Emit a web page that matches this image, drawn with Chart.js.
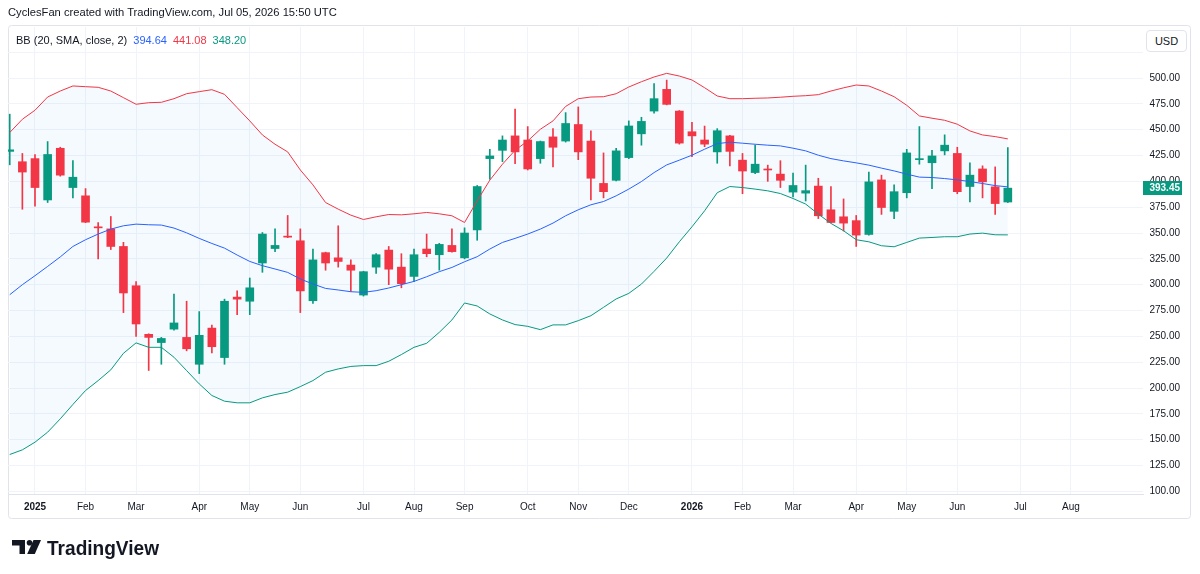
<!DOCTYPE html>
<html>
<head>
<meta charset="utf-8">
<script src="https://cdn.jsdelivr.net/npm/chart.js@4.4.1/dist/chart.umd.min.js"></script>
<style>
  body { margin: 0; background: #fff; }
  #wrap { position: relative; width: 1200px; height: 574px; font-family: "Liberation Sans", Arial, sans-serif; color: #131722; }
  canvas { position: absolute; left: 0; top: 0; }
  #hdr { position: absolute; left: 8px; top: 6px; font-size: 11.2px; white-space: nowrap; }
  #bb { position: absolute; left: 16px; top: 34px; font-size: 11px; white-space: nowrap; }
  #bb span { margin-left: 6px; }
  #usd { position: absolute; left: 1146px; top: 30px; width: 41px; height: 22px; border: 1px solid #e0e3eb; border-radius: 4px;
         box-sizing: border-box; font-size: 11px; line-height: 20px; text-align: center; background: #fff; }
  #logo { position: absolute; left: 10px; top: 534px; }
</style>
</head>
<body>
<div id="wrap">
  <canvas id="chart" width="1200" height="574"></canvas>
  <div id="hdr">CyclesFan created with TradingView.com, Jul 05, 2026 15:50 UTC</div>
  <div id="bb">BB (20, SMA, close, 2)<span id="bbBasis" style="color:#2962ff"></span><span id="bbUpper" style="color:#f23645"></span><span id="bbLower" style="color:#089981"></span></div>
  <div id="usd">USD</div>
  <svg id="logo" width="170" height="30" viewBox="0 0 170 30">
    <path d="M2 6h13v14h-5.5v-8.5H2z" fill="#131722"/>
    <circle cx="19.5" cy="8.8" r="2.8" fill="#131722"/>
    <path d="M23.5 6h7.5l-6.2 14h-7.6z" fill="#131722"/>
    <text x="37" y="20.5" font-family="Liberation Sans, Arial, sans-serif" font-weight="bold" font-size="20.5" textLength="112" lengthAdjust="spacingAndGlyphs" fill="#131722">TradingView</text>
  </svg>
</div>
<script>
// weekly bars, first bar is the week of Dec 23 2024 (index -2, week 0 = Jan 6 2025)
const firstWeek = -2;

const opens = [429, 419, 422, 382, 432, 394, 386, 356, 354, 337, 299, 252, 244, 257, 249, 223, 258, 229.5, 288, 284,
  321, 335, 347, 342.5, 284.5, 331, 326, 319, 290, 317, 333.5, 317, 308, 334.5, 329, 338, 326, 353, 422, 430,
  444, 440, 422, 443, 439, 455, 439, 398, 401, 423, 446, 468, 489, 468, 448, 440, 428.5, 444, 420.5, 408.5,
  411.5, 407, 389.6, 388.6, 395.4, 372.5, 365.7, 362, 348.6, 401.4, 371, 389, 421, 418, 429.5, 427, 395, 412, 394.7, 380];
const highs = [465, 427, 426, 438.5, 433, 420, 393, 360, 366, 341, 303, 252.5, 249, 291, 284, 274, 261, 286, 294, 306.5,
  350.5, 354, 367, 354, 334.5, 331.5, 357, 324, 313, 330, 337, 330, 334.5, 349, 340, 354, 355, 396, 431, 444,
  470, 453, 439, 451, 466.5, 472, 449, 427.5, 432, 458.5, 462, 494.5, 498, 468.5, 457, 453.5, 451, 444.5, 427, 435,
  415.7, 420, 408, 415.7, 403, 395, 383, 367, 409, 406, 396.6, 431, 453, 430, 445, 433, 418, 415, 414, 432.7];
const lows = [416, 373, 376, 379.5, 405, 384, 360, 325, 334, 273, 250, 217, 223, 256, 236, 214, 234, 223, 271, 271,
  312, 332, 345.5, 273, 282, 314, 317, 293.5, 289, 311, 300, 297, 303, 327, 314, 331.5, 325, 343, 402, 419,
  417, 411, 417.5, 414, 438, 421, 382, 384, 400.5, 422, 435, 466, 474, 436, 424, 433.5, 417.5, 415, 388, 407.5,
  400, 394, 385, 381, 364, 360, 352, 337, 348, 368, 364, 384, 416.6, 393, 425.6, 388, 380, 384, 368, 379.5];
const closes = [430.5, 409, 394, 426, 406, 404, 360.5, 355, 337, 292, 262, 249, 248, 263, 238, 251, 240, 284, 286, 297,
  349, 338, 346, 294, 324, 321, 322.5, 314, 312.6, 329, 315, 301, 329, 330, 339, 332, 350, 395, 424.6, 440,
  428.5, 412, 438.5, 433, 456, 428.5, 403, 390, 429.5, 453.6, 458, 480, 474.5, 437, 444, 436, 449, 429, 410, 416.6,
  411, 401, 396, 391, 366.7, 360.2, 359.6, 348, 399.5, 374.7, 390, 427.5, 421.5, 424.6, 435, 390, 406, 399.5, 378.5, 393.45];

// Bollinger Bands (20, SMA, close, 2)
const bbUpper = [447.2, 460.1, 468.8, 481.6, 487.4, 492.3, 491.6, 491.0, 487.4, 481, 474.6, 476.1, 476.5, 480, 484.8, 486.8, 488.7, 484.2, 471.3, 458.5,
  444.9, 435.9, 428.5, 411, 396.6, 379.5, 373.1, 367.3, 363.1, 365.7, 367.9, 367.6, 368.6, 369.9, 368.6, 366.7, 360.2, 381.2, 401.2, 416.6,
  430.1, 439.1, 450.4, 458.5, 472.5, 480, 481.6, 481.9, 484.8, 491.3, 496.4, 501, 504.5, 501.9, 498.1, 490.6, 482.6, 480, 480, 480.4,
  480.7, 481.4, 482.3, 482.9, 483.9, 487.4, 490.5, 493.2, 492.3, 487.4, 481.9, 473.6, 463.3, 461.1, 459.1, 455.3, 448.8, 444.9, 443.3, 441.08];
const bbBasis = [290.3, 300, 308.7, 317.7, 326.9, 337, 343.5, 349, 353.8, 357, 358.6, 358, 357.7, 354.8, 350.2, 344.8, 339.9, 335.4, 328.7, 322.5,
  318.4, 315.2, 311.9, 305.5, 300.7, 296.4, 294.9, 293.2, 292.6, 294.2, 296.8, 300, 303.2, 307.7, 312.6, 316.7, 322.2, 327.1, 334.5, 340.9,
  344.8, 349, 353.8, 359.6, 366.7, 372.5, 377.3, 380.5, 386, 392.5, 399.8, 408.5, 415.9, 420.5, 425.3, 431.1, 436.5, 437.9, 436.9, 435.9,
  435, 434.3, 432.1, 429.5, 425.3, 422, 419.8, 417.9, 415.7, 412.8, 410.1, 407, 404.1, 403.7, 402.7, 401.4, 399.8, 397.9, 395.9, 394.64];
const bbLower = [135.7, 140.2, 147.6, 157.3, 170.2, 184.1, 197.6, 207.2, 217.6, 233.6, 243.7, 239.4, 239.4, 229.8, 216.9, 204, 192.8, 187.3, 185.7, 185.7,
  190.5, 193.7, 196, 201.4, 207.2, 215.3, 218.5, 220.9, 221.7, 221.7, 225.9, 232.4, 239.4, 243.3, 253.9, 265.9, 282.3, 279.4, 271.7, 265.9,
  261.4, 259.7, 256.5, 261.1, 261.1, 265.2, 270, 278.1, 286.2, 291.6, 300.6, 312.9, 325.8, 341.5, 356, 371.5, 389, 395, 394, 392.5,
  390.8, 388.2, 383.4, 378, 368.3, 359.3, 352.2, 343.5, 341.5, 337.7, 336.7, 340.9, 345.1, 345.7, 346.4, 346.4, 349, 349.9, 348.3, 348.20];

// time axis: week index of the first bar of each month
const monthTicks = [0, 4, 8, 13, 17, 21, 26, 30, 34, 39, 43, 47, 52, 56, 60, 65, 69, 73, 78, 82];
const monthLabels = ['2025', 'Feb', 'Mar', 'Apr', 'May', 'Jun', 'Jul', 'Aug', 'Sep', 'Oct', 'Nov', 'Dec',
  '2026', 'Feb', 'Mar', 'Apr', 'May', 'Jun', 'Jul', 'Aug'];

const upColor = '#089981';
const downColor = '#f23645';
const gridColor = '#f0f3fa';
const fontFamily = '"Liberation Sans", Arial, sans-serif';

const lastClose = closes[closes.length - 1];

document.getElementById('bbBasis').textContent = bbBasis[bbBasis.length - 1].toFixed(2);
document.getElementById('bbUpper').textContent = bbUpper[bbUpper.length - 1].toFixed(2);
document.getElementById('bbLower').textContent = bbLower[bbLower.length - 1].toFixed(2);

const weekOf = i => firstWeek + i;
const bodyData = opens.map((o, i) => ({ x: weekOf(i), y: [o, closes[i]] }));
const wickData = highs.map((h, i) => ({ x: weekOf(i), y: [lows[i], h] }));
const candleColors = opens.map((o, i) => closes[i] >= o ? upColor : downColor);
const toPoints = arr => arr.map((v, i) => ({ x: weekOf(i), y: v }));

const frame = {
  id: 'frame',
  beforeDraw: (chart) => {
    const ctx = chart.ctx;
    ctx.save();
    ctx.fillStyle = '#fff';
    ctx.fillRect(0, 0, chart.width, chart.height);
    ctx.strokeStyle = '#e0e3eb';
    ctx.lineWidth = 1;
    ctx.beginPath();
    ctx.roundRect(8.5, 25.5, 1182, 493, 3);
    ctx.stroke();
    ctx.restore();
  },
  afterDraw: (chart) => {
    // last price badge on the price scale
    const ctx = chart.ctx;
    const ys = chart.scales.y;
    const py = ys.getPixelForValue(lastClose);
    ctx.save();
    ctx.fillStyle = upColor;
    ctx.fillRect(chart.chartArea.right, Math.round(py) - 7, ys.right - chart.chartArea.right + 2, 14);
    ctx.fillStyle = '#fff';
    ctx.font = 'bold 10px ' + fontFamily;
    ctx.textAlign = 'right';
    ctx.textBaseline = 'middle';
    ctx.fillText(lastClose.toFixed(2), ys.right, Math.round(py) + 0.5);
    ctx.restore();
  }
};

const ctx = document.getElementById('chart').getContext('2d');
new Chart(ctx, {
  type: 'bar',
  plugins: [frame],
  data: {
    datasets: [
      {
        type: 'line', label: 'Upper', data: toPoints(bbUpper),
        borderColor: '#f23645', borderWidth: 1, pointRadius: 0, tension: 0,
        fill: 2, backgroundColor: 'rgba(33,150,243,0.05)', order: 0
      },
      {
        type: 'line', label: 'Basis', data: toPoints(bbBasis),
        borderColor: '#2962ff', borderWidth: 1, pointRadius: 0, tension: 0, fill: false, order: 0
      },
      {
        type: 'line', label: 'Lower', data: toPoints(bbLower),
        borderColor: '#089981', borderWidth: 1, pointRadius: 0, tension: 0, fill: false, order: 0
      },
      {
        label: 'Wick', data: wickData, backgroundColor: candleColors,
        barThickness: 1, grouped: false, borderWidth: 0, order: 2
      },
      {
        label: 'Body', data: bodyData, backgroundColor: candleColors,
        barThickness: 8, grouped: false, borderWidth: 0, minBarLength: 1, order: 1
      }
    ]
  },
  options: {
    responsive: false,
    animation: false,
    layout: { padding: { left: 8, top: 27, right: 20, bottom: 56 } },
    plugins: {
      legend: { display: false },
      tooltip: { enabled: false },
      filler: { drawTime: 'beforeDatasetsDraw' }
    },
    scales: {
      x: {
        type: 'linear',
        min: -2.137,
        max: 87.70,
        offset: false,
        afterBuildTicks: (scale) => { scale.ticks = monthTicks.map(v => ({ value: v })); },
        afterFit: (scale) => { scale.height = 24; },
        grid: { color: gridColor, drawTicks: false, offset: false },
        border: { color: '#e0e3eb' },
        ticks: {
          autoSkip: false,
          maxRotation: 0,
          padding: 7,
          color: '#131722',
          font: (c) => ({ family: fontFamily, size: 10, weight: /^\d{4}$/.test(monthLabels[c.index] || '') ? 'bold' : 'normal' }),
          callback: (v, i) => monthLabels[i]
        }
      },
      y: {
        type: 'linear',
        position: 'right',
        min: 97.48,
        max: 549.35,
        afterFit: (scale) => { scale.width = 37; },
        grid: { color: gridColor, drawTicks: false },
        border: { display: false },
        ticks: {
          stepSize: 25,
          includeBounds: false,
          crossAlign: 'far',
          color: '#131722',
          font: { family: fontFamily, size: 10 },
          callback: (v) => v > 500 ? '' : Number(v).toFixed(2)
        }
      }
    }
  }
});
</script>
</body>
</html>
